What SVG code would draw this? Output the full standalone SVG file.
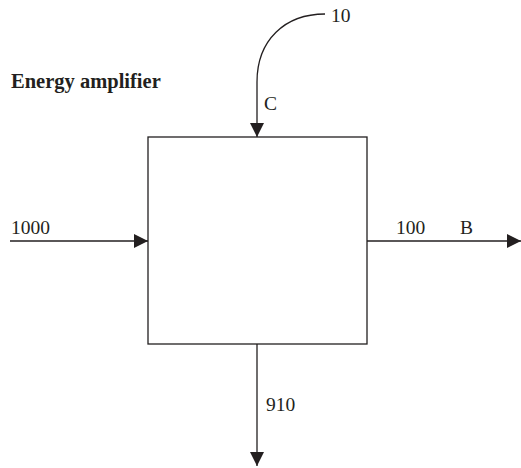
<svg xmlns="http://www.w3.org/2000/svg" width="521" height="468" viewBox="0 0 521 468">
<style>
.t{font-family:"Liberation Serif","Times New Roman",serif;font-size:19.5px;fill:#231f20}
.b{font-weight:bold;font-size:20.5px}
.l{stroke:#231f20;stroke-width:1.3;fill:none}
</style>
<defs>
<marker id="ah" markerWidth="14" markerHeight="14" viewBox="0 0 14 14" refX="14" refY="7" orient="auto" markerUnits="userSpaceOnUse">
<path d="M0,0 L14,7 L0,14 Z" fill="#231f20"/>
</marker>
</defs>
<rect width="521" height="468" fill="#fff"/>
<text class="t b" x="11" y="88">Energy amplifier</text>
<g id="box">
<rect class="l" x="148" y="137" width="219" height="207"/>
</g>
<g id="connectors">
<path class="l" d="M325,14 C285,14 257,40 257,82 L257,137" marker-end="url(#ah)"/>
<path class="l" d="M10,241 L148,241" marker-end="url(#ah)"/>
<path class="l" d="M367,241 L521,241" marker-end="url(#ah)"/>
<path class="l" d="M257,344 L257,466" marker-end="url(#ah)"/>
</g>
<g id="labels">
<text class="t" x="331" y="22">10</text>
<text class="t" x="264" y="110">C</text>
<text class="t" x="11" y="234">1000</text>
<text class="t" x="396" y="234">100</text>
<text class="t" x="460" y="234">B</text>
<text class="t" x="266" y="411">910</text>
</g>
</svg>
